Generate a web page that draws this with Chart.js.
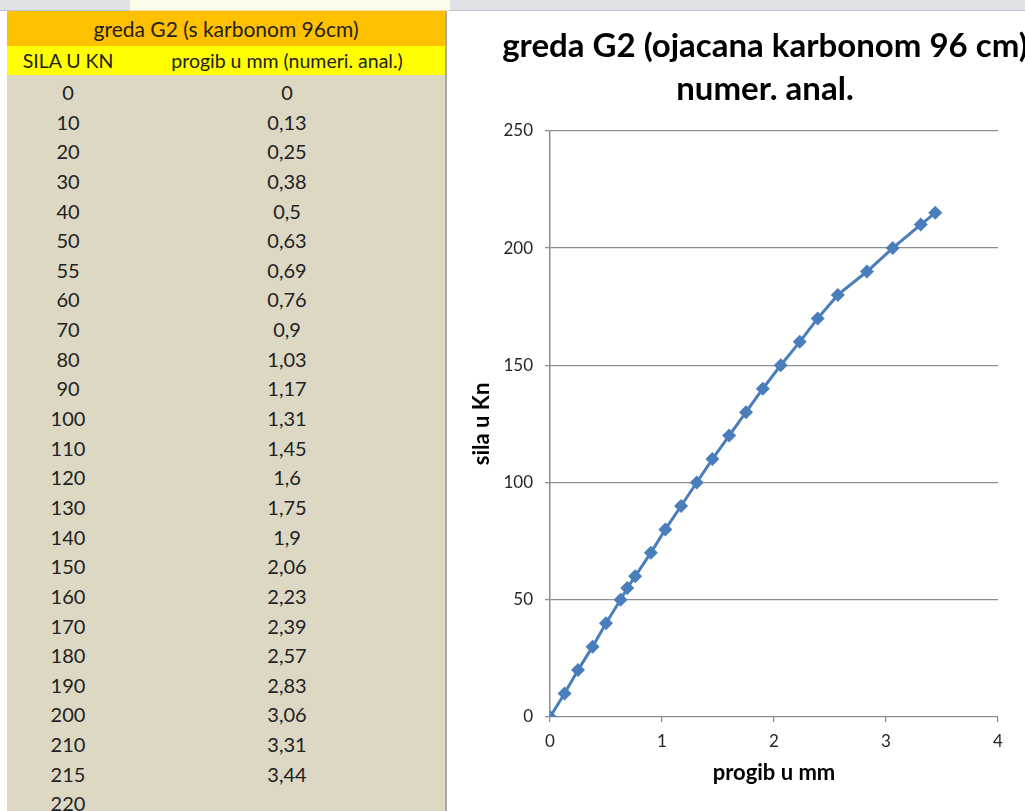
<!DOCTYPE html>
<html>
<head>
<meta charset="utf-8">
<script src="https://cdn.jsdelivr.net/npm/chart.js@4.4.0/dist/chart.umd.min.js"></script>
<style>
  html, body { margin: 0; padding: 0; width: 1025px; height: 811px; overflow: hidden; background: #fff; font-family: Lato, "Open Sans", sans-serif; }
  .strip { position: absolute; top: 0; height: 10px; border-bottom: 1px solid #c2c6cc; }
  #sheet { position: absolute; left: 7px; top: 11px; width: 438px; height: 800px; background: #ddd8c4; border-right: 2px solid #a8a8a8; }
  .hdr1 { height: 35px; line-height: 35px; background: #ffc000; text-align: center; font-size: 21px; color: #222; }
  .hdr2 { height: 29px; line-height: 29px; background: #ffff00; font-size: 19.5px; color: #222; display: flex; }
  .row { height: 29.65px; line-height: 29.65px; font-size: 20px; color: #222; display: flex; }
  .c1 { width: 122px; text-align: center; }
  .c2 { width: 316px; text-align: center; }
  #chartBox { position: absolute; left: 450px; top: 11px; width: 630px; height: 800px; }
</style>
</head>
<body>
<div class="strip" style="left:0;width:130px;background:#dfe3e8;"></div>
<div class="strip" style="left:130px;width:320px;background:#fffbea;border-bottom-color:#f0e2a8;"></div>
<div class="strip" style="left:450px;width:575px;background:#dfe3e8;"></div>
<div id="sheet"></div>
<div id="chartBox"><canvas id="chart"></canvas></div>
<script>
// values read from the sheet
const silaKN = [0, 10, 20, 30, 40, 50, 55, 60, 70, 80, 90, 100, 110, 120, 130, 140, 150, 160, 170, 180, 190, 200, 210, 215];
const progibMM = [0, 0.13, 0.25, 0.38, 0.5, 0.63, 0.69, 0.76, 0.9, 1.03, 1.17, 1.31, 1.45, 1.6, 1.75, 1.9, 2.06, 2.23, 2.39, 2.57, 2.83, 3.06, 3.31, 3.44];
const extraSila = [220];

const sheetTitle = 'greda G2 (s karbonom 96cm)';
const colHeaders = ['SILA U KN', 'progib u mm (numeri. anal.)'];
const chartTitle = ['greda G2 (ojacana karbonom 96 cm)', 'numer. anal.'];
const xTitle = 'progib u mm';
const yTitle = 'sila u Kn';

// build the spreadsheet part
const sheet = document.getElementById('sheet');
let html = '<div class="hdr1">' + sheetTitle + '</div>';
html += '<div class="hdr2"><div class="c1">' + colHeaders[0] + '</div><div class="c2">' + colHeaders[1] + '</div></div>';
html += '<div style="height:3px"></div>';
silaKN.forEach((s, i) => {
    const p = String(progibMM[i]).replace('.', ',');
    html += '<div class="row"><div class="c1">' + s + '</div><div class="c2">' + p + '</div></div>';
});
extraSila.forEach(s => {
    html += '<div class="row"><div class="c1">' + s + '</div><div class="c2"></div></div>';
});
sheet.innerHTML = html;

// chart
const points = silaKN.map((s, i) => ({ x: progibMM[i], y: s }));
const blue = '#4a7ebb';
const gridGrey = '#8e8e8e';

new Chart(document.getElementById('chart').getContext('2d'), {
    type: 'line',
    data: {
        datasets: [{
            data: points,
            borderColor: blue,
            backgroundColor: blue,
            borderWidth: 3,
            pointStyle: 'rectRot',
            pointRadius: 7,
            pointBorderWidth: 0,
            pointBackgroundColor: blue,
            pointBorderColor: blue,
            tension: 0
        }]
    },
    options: {
        responsive: true,
        maintainAspectRatio: false,
        animation: false,
        layout: { padding: 0 },
        plugins: {
            legend: { display: false },
            tooltip: { enabled: false },
            title: {
                display: true,
                text: chartTitle,
                color: '#000',
                font: { family: 'Lato', size: 33, weight: 'bold', lineHeight: 1.3 },
                padding: { top: 14, bottom: 20 }
            }
        },
        scales: {
            x: {
                type: 'linear',
                min: 0,
                max: 4,
                ticks: { stepSize: 1, color: '#262626', padding: 9, font: { family: 'Lato', size: 17 } },
                grid: { drawOnChartArea: false, drawTicks: true, tickLength: 5, color: gridGrey, lineWidth: 1.3 },
                border: { display: false },
                title: {
                    display: true,
                    text: xTitle,
                    color: '#000',
                    font: { family: 'Lato', size: 22, weight: 'bold' },
                    padding: { top: 0, bottom: 25 }
                },
                afterFit: (scale) => { scale.height = 94; }
            },
            y: {
                min: 0,
                max: 250,
                ticks: { stepSize: 50, color: '#262626', padding: 12, font: { family: 'Lato', size: 17 } },
                grid: { color: gridGrey, lineWidth: 1.3, tickLength: 5 },
                border: { color: gridGrey, width: 1.5 },
                title: {
                    display: true,
                    text: yTitle,
                    color: '#000',
                    font: { family: 'Lato', size: 22, weight: 'bold' },
                    padding: { top: 19, bottom: 0 }
                },
                afterFit: (scale) => { scale.width = 100; }
            },
            // empty right-hand spacer so the plot ends where Excel's does
            yRight: {
                position: 'right',
                min: 0,
                max: 250,
                grid: { display: false },
                border: { display: false },
                ticks: { display: false },
                afterFit: (scale) => { scale.width = 82; }
            }
        }
    }
});
</script>
</body>
</html>
